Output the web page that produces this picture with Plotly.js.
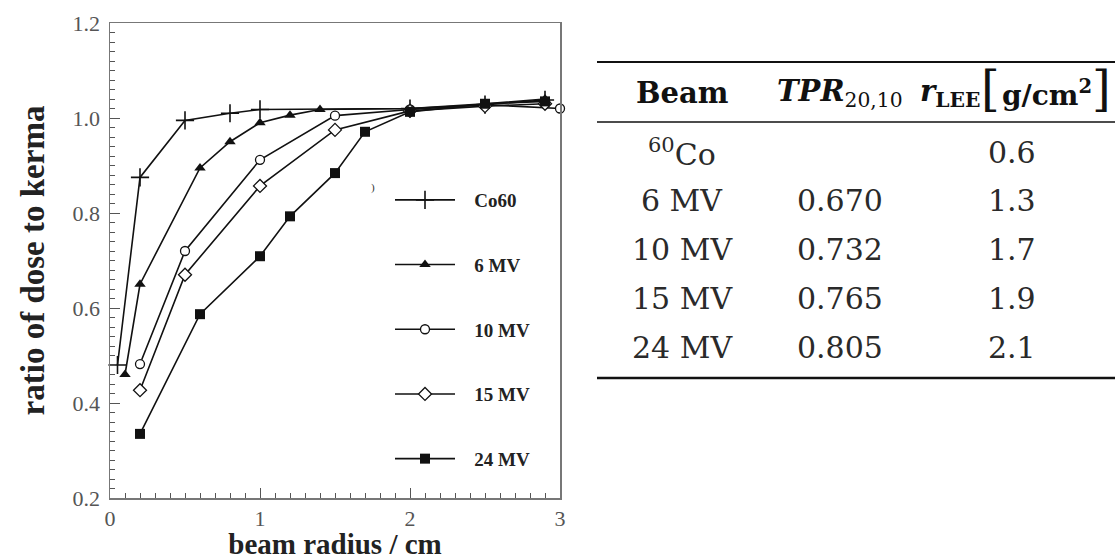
<!DOCTYPE html>
<html>
<head>
<meta charset="utf-8">
<script src="https://cdn.plot.ly/plotly-3.0.1.min.js"></script>
<style>html,body{margin:0;padding:0;background:#fff;}#chart{width:1115px;height:560px;}</style>
</head>
<body>
<div id="chart"></div>
<script>
// ---- chart data ----
const seriesNames = ['Co60', '6 MV', '10 MV', '15 MV', '24 MV'];
const co60X = [0.05, 0.2, 0.5, 0.8, 1.0, 2.0, 2.5, 2.9];
const co60Y = [0.48, 0.875, 0.995, 1.01, 1.018, 1.02, 1.028, 1.038];
const mv6X = [0.1, 0.2, 0.6, 0.8, 1.0, 1.2, 1.4, 2.0, 2.5, 2.9];
const mv6Y = [0.46, 0.65, 0.895, 0.95, 0.99, 1.006, 1.018, 1.02, 1.03, 1.04];
const mv10X = [0.2, 0.5, 1.0, 1.5, 2.0, 2.5, 3.0];
const mv10Y = [0.482, 0.72, 0.912, 1.005, 1.018, 1.028, 1.02];
const mv15X = [0.2, 0.5, 1.0, 1.5, 2.0, 2.5, 2.9];
const mv15Y = [0.427, 0.67, 0.857, 0.975, 1.015, 1.025, 1.03];
const mv24X = [0.2, 0.6, 1.0, 1.2, 1.5, 1.7, 2.0, 2.5, 2.9];
const mv24Y = [0.335, 0.587, 0.709, 0.793, 0.884, 0.971, 1.013, 1.03, 1.035];

// ---- table data ----
const tableHeaders = ['<b>Beam</b>', '<b><i>TPR</i></b><sub>20,10</sub>', '<b><i>r</i><sub>LEE</sub></b>'];
const tableBeams = ['<sup>60</sup>Co', '6 MV', '10 MV', '15 MV', '24 MV'];
const tableTPR = ['', '0.670', '0.732', '0.765', '0.805'];
const tableRLEE = ['0.6', '1.3', '1.7', '1.9', '2.1'];

// ---- helpers: pixel -> paper coordinates (plot area 110..560 x 23..498) ----
const PL = 110, PR = 560, PT = 23, PB = 498;
const xp = px => (px - PL) / (PR - PL);
const yp = py => (PB - py) / (PB - PT);

const lineStyle = {color: '#111', width: 1.6};
const traces = [
  {x: co60X, y: co60Y, name: seriesNames[0], marker: {symbol: 'cross-thin', size: 13, line: {color: '#111', width: 1.6}, color: '#111'}},
  {x: mv6X, y: mv6Y, name: seriesNames[1], marker: {symbol: 'triangle-up', size: 10, color: '#111'}},
  {x: mv10X, y: mv10Y, name: seriesNames[2], marker: {symbol: 'circle', size: 9, color: '#fff', line: {color: '#111', width: 1.3}}},
  {x: mv15X, y: mv15Y, name: seriesNames[3], marker: {symbol: 'diamond', size: 10, color: '#fff', line: {color: '#111', width: 1.3}}},
  {x: mv24X, y: mv24Y, name: seriesNames[4], marker: {symbol: 'square', size: 10, color: '#111'}}
].map((t, i) => Object.assign({
  type: 'scatter', mode: 'lines+markers', line: lineStyle, legendgroup: 'g' + i, cliponaxis: false
}, t, {name: '\u00a0\u00a0\u00a0<b>' + t.name + '</b>'}));

const serif = 'Liberation Serif, Times New Roman, serif';
const tserif = 'DejaVu Serif, serif';

const annotations = [];
const shapes = [];
function addText(px, py, text, size, color, extra) {
  annotations.push(Object.assign({xref: 'paper', yref: 'paper', x: xp(px), y: yp(py), text: text,
    showarrow: false, xanchor: 'center', yanchor: 'middle',
    font: {family: tserif, size: size, color: color}}, extra || {}));
}
// stray mark
addText(373, 187, ')', 11, '#333', {font: {family: serif, size: 11, color: '#333'}});

// table header
addText(682, 93, tableHeaders[0], 29, '#111');
addText(840, 93, tableHeaders[1], 29, '#111');
addText(950, 93, tableHeaders[2], 29, '#111');
addText(990, 89, '[', 48, '#111');
addText(1047, 93, '<b>g/cm<sup>2</sup></b>', 28, '#111');
addText(1101, 89, ']', 48, '#111');

// table body
const rowPx = [152, 200, 249, 298, 347];
tableBeams.forEach((b, i) => {
  addText(682, rowPx[i], b, 30, '#2a2a2a');
  if (tableTPR[i]) addText(840, rowPx[i], tableTPR[i], 30, '#2a2a2a');
  addText(1012, rowPx[i], tableRLEE[i], 30, '#2a2a2a');
});
// rules
[[62, 2.2], [122, 1.6], [378, 2.6]].forEach(([py, w]) => {
  shapes.push({type: 'line', xref: 'paper', yref: 'paper', x0: xp(597), x1: xp(1115), y0: yp(py), y1: yp(py),
    line: {color: '#111', width: w}});
});

const axisCommon = {
  showline: true, linecolor: '#777', linewidth: 1.5, mirror: true,
  ticks: 'inside', tickcolor: '#555', tickwidth: 1, ticklen: 10,
  showgrid: false, zeroline: false,
  tickfont: {family: serif, size: 22, color: '#555'}
};

const layout = {
  width: 1115, height: 560,
  margin: {l: PL, r: 1115 - PR, t: PT, b: 560 - PB, pad: 0},
  paper_bgcolor: '#fff', plot_bgcolor: '#fff',
  showlegend: true,
  legend: {
    x: xp(390), y: yp(181), xanchor: 'left', yanchor: 'top',
    bgcolor: 'rgba(0,0,0,0)', borderwidth: 0,
    font: {family: serif, size: 19, color: '#222'},
    itemwidth: 60, traceorder: 'grouped', tracegroupgap: 37
  },
  xaxis: Object.assign({}, axisCommon, {
    range: [0, 3], tickmode: 'linear', tick0: 0, dtick: 1,
    minor: {dtick: 0.1, ticks: 'inside', ticklen: 5, tickcolor: '#555', tickwidth: 1},
    title: {text: '<b>beam radius / cm</b>', font: {family: serif, size: 29, color: '#222'}, standoff: 8}
  }),
  yaxis: Object.assign({}, axisCommon, {
    range: [0.2, 1.2], tickmode: 'linear', tick0: 0.2, dtick: 0.2, tickformat: '.1f',
    minor: {dtick: 0.02, ticks: 'inside', ticklen: 5, tickcolor: '#555', tickwidth: 1},
    ticklabelstandoff: 4,
    title: {text: '<b>ratio of dose to kerma</b>', font: {family: serif, size: 33, color: '#222'}, standoff: 18}
  }),
  annotations: annotations,
  shapes: shapes
};

Plotly.newPlot('chart', traces, layout, {displayModeBar: false, staticPlot: true});
</script>
</body>
</html>
